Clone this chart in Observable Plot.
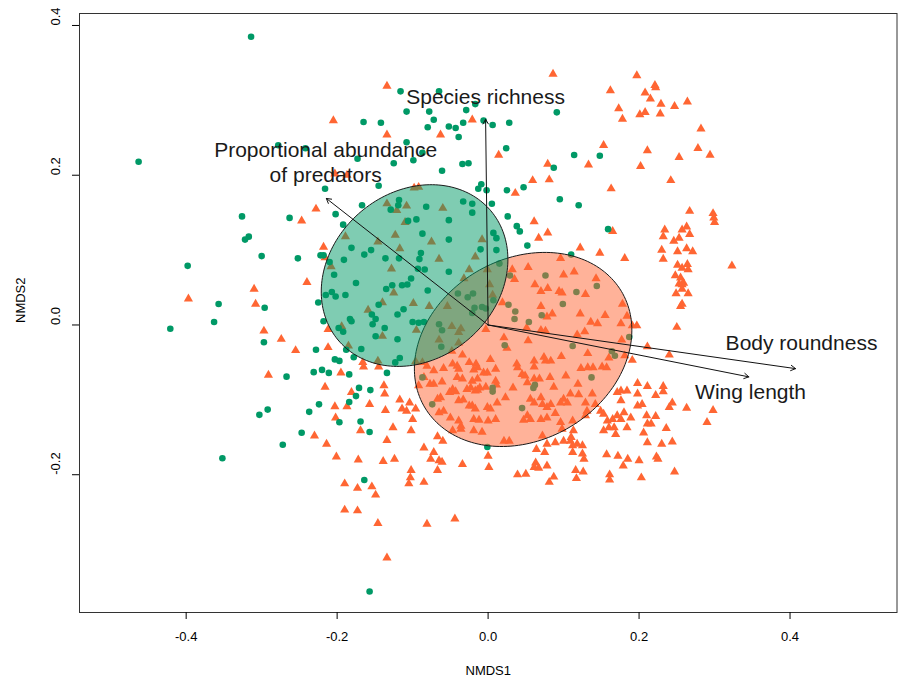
<!DOCTYPE html>
<html><head><meta charset="utf-8">
<script src="https://cdn.jsdelivr.net/npm/d3@7"></script>
<script src="https://cdn.jsdelivr.net/npm/@observablehq/plot@0.6"></script>
<style>body{margin:0;background:#fff;}</style>
</head><body><div id="chart"></div>
<script>
const greenColor = "#009966";
const orangeColor = "#FF6633";

// group 1 (circles), NMDS1 / NMDS2
const greenPts = [
[-0.314,0.385],[-0.463,0.218],[-0.278,0.240],[-0.242,0.236],[-0.216,0.182],[-0.116,0.312],[-0.065,0.312],[-0.017,0.295],
[-0.108,0.285],[-0.078,0.285],[-0.029,0.287],[0.091,0.284],[-0.165,0.271],[-0.142,0.270],[-0.072,0.274],[-0.080,0.264],
[-0.006,0.273],[0.006,0.267],[0.028,0.270],[-0.052,0.265],[-0.043,0.263],[-0.033,0.270],[-0.039,0.251],[-0.108,0.244],
[-0.087,0.230],[-0.173,0.222],[-0.125,0.216],[-0.099,0.220],[-0.034,0.215],[-0.026,0.216],[0.024,0.236],[0.114,0.227],
[0.148,0.226],[0.087,0.210],[-0.061,0.206],[-0.145,0.186],[-0.009,0.188],[-0.013,0.182],[-0.002,0.180],[0.025,0.180],
[0.047,0.184],[0.095,0.168],[0.120,0.160],[-0.118,0.167],[-0.119,0.160],[-0.129,0.154],[-0.082,0.158],[-0.033,0.165],
[-0.021,0.162],[0.005,0.162],[-0.167,0.160],[-0.326,0.145],[-0.263,0.143],[-0.202,0.148],[-0.192,0.134],[-0.317,0.118],
[-0.322,0.114],[-0.300,0.092],[-0.252,0.089],[-0.222,0.093],[-0.218,0.093],[-0.210,0.084],[-0.191,0.087],[-0.398,0.079],
[-0.204,0.067],[-0.357,0.028],[-0.296,0.023],[-0.215,0.040],[-0.207,0.044],[-0.202,0.038],[-0.189,0.040],[-0.225,0.030],
[-0.363,0.004],[-0.421,-0.005],[-0.218,0.005],[-0.198,-0.004],[-0.192,-0.009],[-0.297,-0.023],[-0.228,-0.033],[-0.188,-0.033],
[-0.203,-0.046],[-0.197,-0.048],[-0.231,-0.063],[-0.220,-0.060],[-0.211,-0.064],[-0.184,-0.066],[-0.267,-0.069],[-0.224,-0.106],
[-0.184,-0.103],[-0.021,0.150],[0.026,0.145],[-0.106,0.139],[-0.095,0.141],[-0.052,0.140],[-0.087,0.122],[-0.052,0.114],
[0.011,0.116],[0.007,0.123],[0.038,0.132],[0.042,0.125],[0.159,0.128],[-0.181,0.103],[-0.155,0.100],[-0.164,0.094],
[-0.136,0.089],[-0.118,0.089],[-0.091,0.088],[-0.089,0.096],[-0.010,0.101],[0.011,0.100],[-0.102,0.062],[-0.093,0.075],
[-0.084,0.074],[-0.052,0.071],[0.015,0.082],[-0.175,0.056],[-0.135,0.048],[-0.127,0.053],[-0.114,0.053],[-0.107,0.054],
[-0.080,0.046],[0.007,0.033],[-0.040,0.042],[-0.027,0.037],[-0.020,0.042],[-0.018,0.023],[-0.008,0.024],[-0.003,0.022],
[-0.021,0.016],[-0.145,0.027],[-0.154,0.014],[-0.153,0.001],[-0.149,0.008],[-0.120,0.014],[-0.112,0.021],[-0.183,0.008],
[-0.181,0.005],[-0.137,-0.004],[-0.149,-0.015],[-0.100,0.004],[-0.092,0.003],[-0.085,0.004],[-0.065,0.001],[-0.061,-0.007],
[-0.178,-0.043],[-0.168,-0.032],[-0.134,-0.064],[-0.171,-0.084],[-0.156,-0.087],[-0.175,-0.095],[0.052,0.106],[0.110,0.094],
[0.144,0.052],[0.076,0.066],[0.117,0.044],[0.029,0.066],[0.027,0.027],[0.036,0.018],[0.035,0.008],[0.071,0.013],
[0.099,0.028],[0.054,0.004],[0.187,-0.016],[0.112,-0.028],[0.022,-0.027],[0.164,-0.035],[0.168,-0.041],[0.137,-0.070],
[0.062,-0.080],[0.060,-0.084],[-0.120,-0.019],[-0.117,-0.044],[-0.123,-0.050],[-0.062,-0.029],[-0.087,-0.070],[0.006,-0.084],
[0.006,-0.089],[-0.074,-0.106],[0.045,-0.111],[-0.001,-0.163],[-0.237,-0.116],[-0.303,-0.120],[-0.292,-0.113],[-0.197,-0.130],
[-0.247,-0.144],[-0.272,-0.160],[-0.352,-0.178],[-0.169,-0.129],[-0.157,-0.143],[-0.164,-0.207],[-0.157,-0.356]
];

// group 2 (triangles), NMDS1 / NMDS2
const orangePts = [
[-0.205,0.273],[-0.203,0.202],[-0.187,0.200],[-0.228,0.155],[0.086,0.335],[0.162,0.313],[-0.134,0.319],[-0.021,0.274],
[-0.134,0.254],[-0.063,0.254],[0.014,0.227],[0.153,0.240],[0.079,0.215],[0.133,0.214],[0.059,0.193],[0.081,0.194],
[0.036,0.176],[0.163,0.182],[-0.098,0.183],[-0.092,0.184],[-0.134,0.162],[-0.121,0.153],[-0.108,0.159],[-0.060,0.156],
[0.197,0.333],[0.221,0.320],[0.222,0.317],[0.208,0.310],[0.215,0.302],[0.229,0.295],[0.247,0.292],[0.264,0.298],
[0.173,0.289],[0.178,0.275],[0.201,0.281],[0.208,0.284],[0.228,0.282],[0.282,0.262],[0.211,0.233],[0.278,0.236],
[0.294,0.227],[0.253,0.224],[0.202,0.212],[0.242,0.193],[-0.247,0.139],[-0.189,0.118],[-0.218,0.104],[-0.216,0.090],
[-0.208,0.078],[-0.240,0.057],[-0.310,0.048],[-0.397,0.035],[-0.308,0.028],[-0.194,-0.002],[-0.297,-0.008],[-0.212,-0.006],
[-0.274,-0.019],[-0.255,-0.034],[-0.212,-0.030],[-0.185,-0.028],[-0.195,-0.064],[-0.291,-0.067],[-0.216,-0.083],[-0.110,0.137],
[0.061,0.138],[0.067,0.116],[0.079,0.123],[0.165,0.125],[-0.123,0.120],[-0.075,0.111],[-0.008,0.114],[-0.146,0.111],
[-0.117,0.102],[-0.065,0.088],[-0.017,0.091],[-0.128,0.075],[-0.025,0.074],[-0.001,0.074],[-0.125,0.043],[-0.032,0.062],
[0.002,0.054],[0.006,0.040],[-0.054,0.025],[-0.099,0.029],[-0.078,0.025],[-0.159,0.020],[-0.140,0.030],[-0.140,-0.015],
[-0.095,-0.007],[-0.048,-0.002],[-0.036,-0.005],[-0.146,-0.048],[-0.165,-0.056],[-0.166,-0.050],[-0.145,-0.056],[-0.138,-0.081],
[-0.137,-0.092],[-0.181,-0.090],[-0.157,-0.106],[-0.003,-0.006],[0.122,0.103],[0.148,0.096],[0.181,0.089],[0.230,0.100],
[0.232,0.088],[0.251,0.098],[0.263,0.102],[0.271,0.098],[0.246,0.112],[0.251,0.080],[0.257,0.076],[0.264,0.081],
[0.265,0.074],[0.248,0.066],[0.255,0.063],[0.259,0.056],[0.253,0.055],[0.257,0.054],[0.249,0.042],[0.265,0.042],
[0.257,0.048],[0.255,0.025],[0.257,0.028],[0.250,-0.003],[0.197,-0.001],[0.191,-0.001],[0.211,-0.029],[0.240,-0.040],
[0.191,-0.047],[0.198,-0.078],[0.211,-0.082],[0.232,-0.082],[0.053,0.077],[0.096,0.089],[0.100,0.067],[0.114,0.071],
[0.143,0.062],[0.129,0.041],[0.032,0.074],[0.035,0.061],[0.062,0.054],[0.070,0.045],[0.079,0.049],[0.094,0.045],
[0.098,0.043],[0.070,0.025],[0.085,0.015],[0.078,0.011],[0.122,0.015],[0.155,0.013],[0.178,0.028],[0.184,0.012],
[0.136,0.004],[0.145,0.002],[0.176,0.002],[0.051,-0.004],[0.070,-0.007],[0.076,-0.008],[0.118,-0.013],[0.128,-0.009],
[0.177,-0.020],[0.053,-0.021],[0.025,-0.031],[0.097,-0.042],[0.132,-0.038],[0.160,-0.044],[0.181,-0.041],[0.074,-0.043],
[0.083,-0.048],[0.076,-0.048],[0.061,-0.048],[0.061,-0.056],[0.038,-0.052],[0.039,-0.057],[0.123,-0.058],[0.132,-0.057],
[0.139,-0.057],[0.151,-0.056],[0.157,-0.057],[0.103,-0.068],[0.082,-0.070],[0.045,-0.066],[0.049,-0.068],[0.061,-0.072],
[0.068,-0.072],[0.033,-0.084],[0.052,-0.077],[0.087,-0.083],[0.119,-0.079],[0.019,0.030],[0.021,-0.017],[0.267,0.152],
[0.298,0.149],[0.299,0.143],[0.300,0.137],[0.234,0.127],[0.232,0.118],[0.257,0.127],[0.263,0.131],[0.267,0.121],
[0.253,0.116],[0.323,0.079],[0.232,-0.089],[0.222,-0.094],[0.244,-0.104],[-0.039,-0.024],[-0.039,-0.010],[-0.065,-0.020],
[-0.096,-0.049],[-0.087,-0.050],[-0.048,-0.035],[-0.034,-0.040],[-0.025,-0.050],[-0.016,-0.052],[-0.014,-0.057],[-0.019,-0.060],
[-0.041,-0.055],[-0.039,-0.059],[-0.047,-0.052],[-0.059,-0.058],[-0.072,-0.061],[-0.081,-0.055],[-0.085,-0.070],[-0.077,-0.079],
[-0.072,-0.079],[-0.061,-0.076],[-0.047,-0.086],[-0.051,-0.090],[-0.043,-0.089],[-0.028,-0.086],[-0.023,-0.084],[-0.017,-0.088],
[-0.014,-0.087],[-0.011,-0.084],[-0.003,-0.083],[0.010,-0.075],[0.011,-0.080],[-0.014,-0.072],[-0.021,-0.075],[-0.041,-0.070],
[-0.034,-0.072],[-0.006,-0.064],[-0.001,-0.064],[0.003,-0.046],[0.010,-0.059],[-0.092,-0.081],[-0.063,-0.097],[-0.067,-0.099],
[-0.039,-0.101],[-0.033,-0.100],[-0.025,-0.108],[-0.021,-0.108],[-0.017,-0.112],[-0.001,-0.110],[0.003,-0.112],[0.012,-0.104],
[0.023,-0.097],[0.056,-0.099],[0.061,-0.104],[0.070,-0.097],[0.072,-0.106],[0.078,-0.110],[0.083,-0.106],[0.096,-0.104],
[0.100,-0.099],[0.105,-0.104],[0.109,-0.092],[0.120,-0.093],[0.129,-0.104],[0.138,-0.092],[-0.019,-0.126],[-0.012,-0.127],
[0.000,-0.128],[0.010,-0.126],[-0.039,-0.128],[-0.036,-0.135],[-0.050,-0.124],[-0.065,-0.117],[-0.059,-0.115],[-0.047,-0.141],
[-0.036,-0.139],[-0.019,-0.141],[-0.008,-0.143],[0.021,-0.155],[0.028,-0.155],[0.052,-0.121],[0.056,-0.126],[0.070,-0.126],
[0.078,-0.124],[0.089,-0.118],[0.096,-0.130],[0.072,-0.148],[0.047,-0.127],[0.112,-0.128],[0.098,-0.139],[0.131,-0.115],
[0.129,-0.121],[0.113,-0.141],[0.100,-0.155],[0.109,-0.155],[0.118,-0.159],[0.125,-0.161],[0.089,-0.157],[0.078,-0.159],
[0.142,-0.106],[0.149,-0.115],[0.153,-0.119],[0.158,-0.128],[0.165,-0.126],[0.160,-0.137],[0.171,-0.121],[0.176,-0.126],
[0.180,-0.117],[0.189,-0.124],[0.198,-0.108],[0.204,-0.106],[0.176,-0.101],[0.171,-0.090],[0.176,-0.088],[0.184,-0.088],
[0.198,-0.092],[0.153,-0.141],[0.167,-0.137],[0.169,-0.146],[0.184,-0.137],[0.206,-0.144],[0.210,-0.121],[0.211,-0.132],
[0.211,-0.157],[0.157,-0.173],[0.172,-0.175],[0.185,-0.179],[0.200,-0.181],[0.179,-0.188],[0.203,-0.204],[-0.085,-0.164],
[-0.072,-0.170],[-0.076,-0.179],[-0.065,-0.181],[-0.061,-0.183],[-0.124,-0.179],[-0.102,-0.194],[-0.103,-0.204],[-0.105,-0.212],
[-0.085,-0.210],[-0.067,-0.194],[-0.034,-0.186],[0.000,-0.175],[0.001,-0.190],[0.039,-0.200],[0.050,-0.199],[0.063,-0.184],
[0.061,-0.190],[0.067,-0.191],[0.078,-0.188],[0.075,-0.170],[0.087,-0.203],[0.081,-0.210],[0.112,-0.161],[0.112,-0.170],
[0.127,-0.179],[0.125,-0.172],[0.116,-0.194],[-0.117,-0.100],[-0.114,-0.112],[-0.104,-0.104],[-0.108,-0.115],[-0.096,-0.112],
[-0.100,-0.126],[-0.126,-0.137],[-0.102,-0.141],[-0.067,-0.149],[-0.060,-0.155],[0.064,-0.166],[0.110,-0.150],[0.117,-0.205],
[0.126,-0.196],[0.161,-0.200],[0.161,-0.207],[-0.136,-0.114],[-0.169,-0.141],[-0.134,-0.154],[-0.172,-0.180],[-0.139,-0.182],
[-0.173,-0.218],[-0.154,-0.216],[-0.149,-0.227],[-0.173,-0.248],[-0.146,-0.265],[-0.081,-0.266],[-0.044,-0.259],[-0.134,-0.311],
[-0.203,-0.109],[-0.187,-0.109],[-0.202,-0.124],[-0.230,-0.148],[-0.214,-0.159],[-0.201,-0.176],[-0.190,-0.212],[-0.190,-0.247],
[0.240,-0.110],[0.263,-0.111],[0.298,-0.114],[0.290,-0.130],[0.222,-0.122],[0.216,-0.132],[0.236,-0.138],[0.230,-0.159],
[0.244,-0.156],[0.223,-0.176],[0.225,-0.179],[0.247,-0.196]
];

// group dispersion ellipses: centre, semi-axes (NMDS units), rotation (degrees)
const ellipseParams = [
  {group: "orange", color: orangeColor, cx: 0.0464, cy: -0.0327, a: 0.1516, b: 0.1207, angle: 31},
  {group: "green",  color: greenColor,  cx: -0.0974, cy: 0.066,  a: 0.133,  b: 0.111,  angle: 42}
];

// fitted environmental vectors and label positions
const vectorNames = ["Species richness", "Proportional abundance\nof predators", "Body roundness", "Wing length"];
const vectorX = [-0.0033, -0.2143, 0.4073, 0.3454];
const vectorY = [0.2747, 0.169, -0.0583, -0.0693];
const labelX = [-0.0033, -0.2152, 0.4152, 0.3477];
const labelY = [0.3067, 0.2187, -0.0227, -0.088];

const xTicks = [-0.4, -0.2, 0, 0.2, 0.4];
const yTicks = [-0.2, 0, 0.2, 0.4];

const vectors = vectorNames.map((name, i) => ({name, x: vectorX[i], y: vectorY[i], lx: labelX[i], ly: labelY[i]}));

function ellipsePoints(e) {
  const th = e.angle * Math.PI / 180;
  return d3.range(0, 360, 2).map(deg => {
    const t = deg * Math.PI / 180;
    return {
      x: e.cx + e.a * Math.cos(t) * Math.cos(th) - e.b * Math.sin(t) * Math.sin(th),
      y: e.cy + e.a * Math.cos(t) * Math.sin(th) + e.b * Math.sin(t) * Math.cos(th)
    };
  });
}

const fmt = d => d.toFixed(1);
const font = "Liberation Sans, Arial, Helvetica, sans-serif";

const chart = Plot.plot({
  width: 899,
  height: 677,
  marginLeft: 79,
  marginRight: 2.5,
  marginTop: 13,
  marginBottom: 65,
  x: {domain: [-0.5413, 0.5417]},
  y: {domain: [-0.384, 0.416]},
  style: {fontFamily: font, background: "white", color: "black"},
  marks: [
    Plot.dot(orangePts, {x: d => d[0], y: d => d[1], symbol: "triangle", r: 3.4, fill: orangeColor}),
    Plot.dot(greenPts, {x: d => d[0], y: d => d[1], symbol: "circle", r: 3.3, fill: greenColor}),
    ...ellipseParams.map(e => Plot.line(ellipsePoints(e), {
      x: "x", y: "y", curve: "linear-closed",
      fill: e.color, fillOpacity: 0.5, stroke: "#1a1a1a", strokeWidth: 1
    })),
    Plot.arrow(vectors, {x1: d => 0, y1: d => 0, x2: "x", y2: "y", stroke: "#111", strokeWidth: 1, headLength: 8}),
    Plot.text(vectors, {x: "lx", y: "ly", text: "name", fontSize: 21, fill: "#1a1a1a", lineHeight: 1.22}),
    Plot.frame({stroke: "#333"}),
    Plot.axisX({ticks: xTicks, tickSize: 7, tickFormat: () => "", label: null}),
    Plot.axisY({ticks: yTicks, tickSize: 7, tickFormat: () => "", label: null}),
    Plot.text(xTicks, {x: d => d, frameAnchor: "bottom", dy: 28, text: fmt, fontSize: 13, fill: "black"}),
    Plot.text(yTicks, {y: d => d, frameAnchor: "left", dx: -24, rotate: -90, text: fmt, fontSize: 13, fill: "black"}),
    Plot.text(["NMDS1"], {frameAnchor: "bottom", dy: 62, text: d => d, fontSize: 13, fill: "black"}),
    Plot.text(["NMDS2"], {frameAnchor: "left", dx: -59, dy: 10, rotate: -90, text: d => d, fontSize: 13, fill: "black"})
  ]
});
document.getElementById("chart").appendChild(chart);
</script>
</body></html>
